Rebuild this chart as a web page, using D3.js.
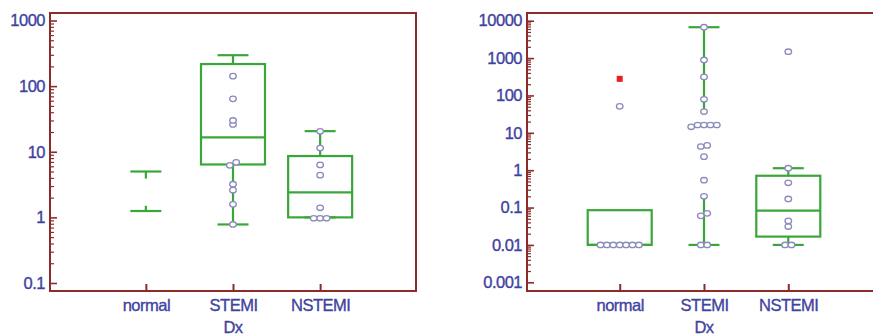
<!DOCTYPE html>
<html>
<head>
<meta charset="utf-8">
<script src="https://cdn.jsdelivr.net/npm/d3@7"></script>
<style>
  body { margin: 0; background: #fff; }
  svg text { font-family: "Liberation Sans", Arial, sans-serif; }
</style>
</head>
<body>
<div id="graf"></div>
<script>
const categorias = ["normal", "STEMI", "NSTEMI"]

// panel izquierdo (escala 0.1 - 1000)
const izqTicks = [0.1, 1, 10, 100, 1000]
const izqMin = [1.25, 0.78, 1]
const izqQ1 = [1.5, 6.4, 1]
const izqMediana = [null, 16.6, 2.4]
const izqQ3 = [3.9, 217, 8.6]
const izqMax = [5, 296, 20.6]
const izqCaja = [false, true, true]
const izqPuntos = [
    [],
    [142, 64, 30, 26, 6.9, 6.2, 3.2, 2.6, 1.58, 0.78],
    [20.5, 11.4, 6.3, 4.4, 1.4, 0.97, 0.97, 0.97]
]

// panel derecho (escala 0.001 - 10000)
const derTicks = [0.001, 0.01, 0.1, 1, 10, 100, 1000, 10000]
const derMin = [null, 0.01, 0.01]
const derQ1 = [0.01, 0.19, 0.0167]
const derMediana = [0.01, null, 0.083]
const derQ3 = [0.085, 37, 0.71]
const derMax = [null, 6700, 1.13]
const derCaja = [true, false, true]
const derPuntos = [
    [51, 0.01, 0.01, 0.01, 0.01, 0.01, 0.01, 0.01],
    [6700, 890, 313, 79, 37, 14.5, 16.2, 16.2, 16.2, 16.2, 4.3, 4.6, 2.3, 0.54, 0.2, 0.07, 0.06, 0.01, 0.01],
    [1480, 1.13, 0.46, 0.17, 0.044, 0.031, 0.01, 0.01]
]
const derMarcado = [278, null, null]  // cuadrado rojo

const colorMarco = "#8c2b2b"
const colorTexto = "#3f43a0"
const colorVerde = "#3aa63a"
const colorPunto = "#8c8cba"

const svg = d3.select("#graf").append("svg").attr("width", 873).attr("height", 335)

const fmt = d => d >= 1 ? String(d) : d3.format("")(d)

const estiloTexto = sel => sel
    .attr("fill", colorTexto).attr("stroke", colorTexto).attr("stroke-width", 0.35)
    .style("font-size", "16.5px").style("letter-spacing", "-0.5px")

const panel = (cfg) => {
    const g = svg.append("g")
    const x = d3.scalePoint().domain(categorias).range([cfg.x0, cfg.x1]).padding(1.1)
    const y = d3.scaleLog().domain(cfg.dominio).range([cfg.yAbajo, cfg.yArriba])

    // marco
    g.append("rect")
        .attr("x", cfg.x0).attr("y", 13)
        .attr("width", cfg.x1 - cfg.x0).attr("height", 278)
        .attr("fill", "none").attr("stroke", colorMarco).attr("stroke-width", 2)

    // ticks menores
    const menores = []
    cfg.ticks.slice(0, -1).forEach(t => { for (let k = 2; k <= 9; k++) menores.push(t * k) })
    const ejeMenor = g.append("g").attr("transform", `translate(${cfg.x0},0)`)
        .call(d3.axisLeft(y).tickValues(menores).tickSize(-4).tickFormat(""))
    ejeMenor.select(".domain").remove()
    ejeMenor.selectAll("line").attr("stroke", colorMarco).attr("stroke-width", 1.2)

    // eje y
    const ejeY = g.append("g").attr("transform", `translate(${cfg.x0},0)`)
        .call(d3.axisLeft(y).tickValues(cfg.ticks).tickSize(-7).tickPadding(5).tickFormat(fmt))
    ejeY.select(".domain").remove()
    ejeY.selectAll("line").attr("stroke", colorMarco).attr("stroke-width", 1.6)
    ejeY.selectAll("text").call(estiloTexto)

    // eje x
    const ejeX = g.append("g").attr("transform", `translate(0,291)`)
        .call(d3.axisBottom(x).tickSize(-7).tickPadding(8))
    ejeX.select(".domain").remove()
    ejeX.selectAll("line").attr("stroke", colorMarco).attr("stroke-width", 2)
    ejeX.selectAll("text").call(estiloTexto)

    g.append("text").attr("x", x("STEMI")).attr("y", 333)
        .attr("text-anchor", "middle").call(estiloTexto).text("Dx")

    // cajas
    const anchoCaja = 64, anchoCap = 31
    categorias.forEach((c, i) => {
        const cx = x(c)
        const b = g.append("g").attr("stroke", colorVerde).attr("stroke-width", 2.2).attr("fill", "none")
        if (cfg.max[i] != null) {
            b.append("line").attr("x1", cx).attr("x2", cx).attr("y1", y(cfg.max[i])).attr("y2", y(cfg.q3[i]))
            b.append("line").attr("x1", cx - anchoCap / 2).attr("x2", cx + anchoCap / 2)
                .attr("y1", y(cfg.max[i])).attr("y2", y(cfg.max[i]))
        }
        if (cfg.min[i] != null) {
            b.append("line").attr("x1", cx).attr("x2", cx).attr("y1", y(cfg.min[i])).attr("y2", y(cfg.q1[i]))
            b.append("line").attr("x1", cx - anchoCap / 2).attr("x2", cx + anchoCap / 2)
                .attr("y1", y(cfg.min[i])).attr("y2", y(cfg.min[i]))
        }
        if (cfg.caja[i]) {
            b.append("rect").attr("x", cx - anchoCaja / 2).attr("width", anchoCaja)
                .attr("y", y(cfg.q3[i])).attr("height", y(cfg.q1[i]) - y(cfg.q3[i]))
            if (cfg.mediana[i] != null)
                b.append("line").attr("x1", cx - anchoCaja / 2).attr("x2", cx + anchoCaja / 2)
                    .attr("y1", y(cfg.mediana[i])).attr("y2", y(cfg.mediana[i]))
        }
    })

    // puntos: agrupa valores muy cercanos y los reparte en horizontal
    const sep = 6.4
    categorias.forEach((c, i) => {
        const vals = cfg.puntos[i].slice().sort((a, b) => a - b)
        const grupos = []
        vals.forEach(v => {
            const ult = grupos[grupos.length - 1]
            if (ult && Math.abs(y(ult[ult.length - 1]) - y(v)) < 3.8) ult.push(v)
            else grupos.push([v])
        })
        const pos = []
        grupos.forEach(gr => gr.forEach((v, k) => pos.push({ v, dx: (k - (gr.length - 1) / 2) * sep })))
        g.selectAll(null).data(pos).enter().append("ellipse")
            .attr("cx", d => x(c) + d.dx).attr("cy", d => y(d.v))
            .attr("rx", 3.3).attr("ry", 2.7)
            .attr("fill", "#fff").attr("stroke", colorPunto).attr("stroke-width", 1.3)
        if (cfg.marcado && cfg.marcado[i] != null)
            g.append("rect").attr("x", x(c) - 3).attr("y", y(cfg.marcado[i]) - 3)
                .attr("width", 6).attr("height", 6).attr("fill", "#e82020")
    })
}

panel({
    x0: 50, x1: 416, dominio: [0.1, 1000], yAbajo: 283, yArriba: 20.5, ticks: izqTicks,
    min: izqMin, q1: izqQ1, mediana: izqMediana, q3: izqQ3, max: izqMax, caja: izqCaja, puntos: izqPuntos
})
panel({
    x0: 527, x1: 881, dominio: [0.001, 10000], yAbajo: 282.3, yArriba: 20.7, ticks: derTicks,
    min: derMin, q1: derQ1, mediana: derMediana, q3: derQ3, max: derMax, caja: derCaja, puntos: derPuntos,
    marcado: derMarcado
})
</script>
</body>
</html>
